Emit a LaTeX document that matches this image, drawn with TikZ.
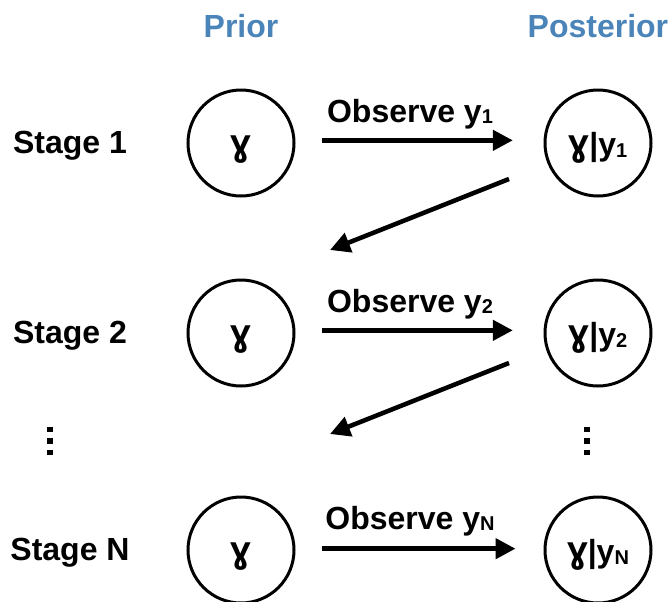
\documentclass[tikz,border=0pt]{standalone}
\usepackage{fontspec}
\setmainfont{Liberation Sans}
\usetikzlibrary{arrows.meta}
\definecolor{headblue}{RGB}{74,132,185}
\newcommand{\subsc}[1]{\raisebox{-1.2pt}{\fontsize{15pt}{16pt}\selectfont #1}}
\newcommand{\gam}{{\fontsize{28pt}{30pt}\selectfont ɣ}}
\newcommand{\sqdots}{\vbox{\offinterlineskip\hbox{\rule{3.9pt}{3.9pt}}\kern4.8pt\hbox{\rule{3.9pt}{3.9pt}}\kern4.8pt\hbox{\rule{3.9pt}{3.9pt}}}}
\tikzset{
  base/.style={font=\fontsize{24pt}{28pt}\selectfont\bfseries},
  circ/.style={base, circle, draw, line width=2.25pt, inner sep=0pt, minimum size=79.5pt, text height=18.8pt, text depth=0pt},
  stagelbl/.style={base, anchor=base},
  obslbl/.style={base, anchor=base},
  headlbl/.style={base, anchor=base, text=headblue},
  arr/.style={line width=3.4pt, -{Triangle[length=15pt,width=15pt]}},
  dotsn/.style={inner sep=0pt}
}
\begin{document}
\begin{tikzpicture}[x=0.75pt,y=-0.75pt]
\useasboundingbox (0,0) rectangle (672,601);
% headings
\node[headlbl] (hprior) at (241,37) {Prior};
\node[headlbl, anchor=base west] (hpost) at (523,37) {Posterior};
% stage labels
\node[stagelbl] (s1) at (70,153) {Stage 1};
\node[stagelbl] (s2) at (70,343) {Stage 2};
\node[stagelbl] (sN) at (70,560) {Stage N};
% circles
\node[circ] (p1) at (241,143) {\gam};
\node[circ] (q1) at (598,143) {\gam|y\subsc{1}};
\node[circ] (p2) at (241,333) {\gam};
\node[circ] (q2) at (598,333) {\gam|y\subsc{2}};
\node[circ] (pN) at (241,550) {\gam};
\node[circ] (qN) at (598,550) {\gam|y\subsc{N}};
% observe labels
\node[obslbl] (o1) at (410,122) {Observe y\subsc{1}};
\node[obslbl] (o2) at (410,312) {Observe y\subsc{2}};
\node[obslbl] (oN) at (410,529) {Observe y\subsc{N}};
% horizontal arrows
\draw[arr, shorten <=20pt, shorten >=23pt] ([yshift=2pt]p1.east) -- ([yshift=2pt]q1.west);
\draw[arr, shorten <=20pt, shorten >=23pt] ([yshift=2pt]p2.east) -- ([yshift=2pt]q2.west);
\draw[arr, shorten <=20pt, shorten >=21pt] ([yshift=1pt]pN.east) -- ([yshift=1pt]qN.west);
% diagonal arrows
\coordinate (d1s) at (509,179);
\coordinate (d1e) at (330,250);
\coordinate (d2s) at (509,363);
\coordinate (d2e) at (330,434);
\draw[arr] (d1s) -- (d1e);
\draw[arr] (d2s) -- (d2e);
% dots
\node[dotsn] (dl) at (50,441) {\sqdots};
\node[dotsn] (dr) at (587,441) {\sqdots};
\end{tikzpicture}
\end{document}
